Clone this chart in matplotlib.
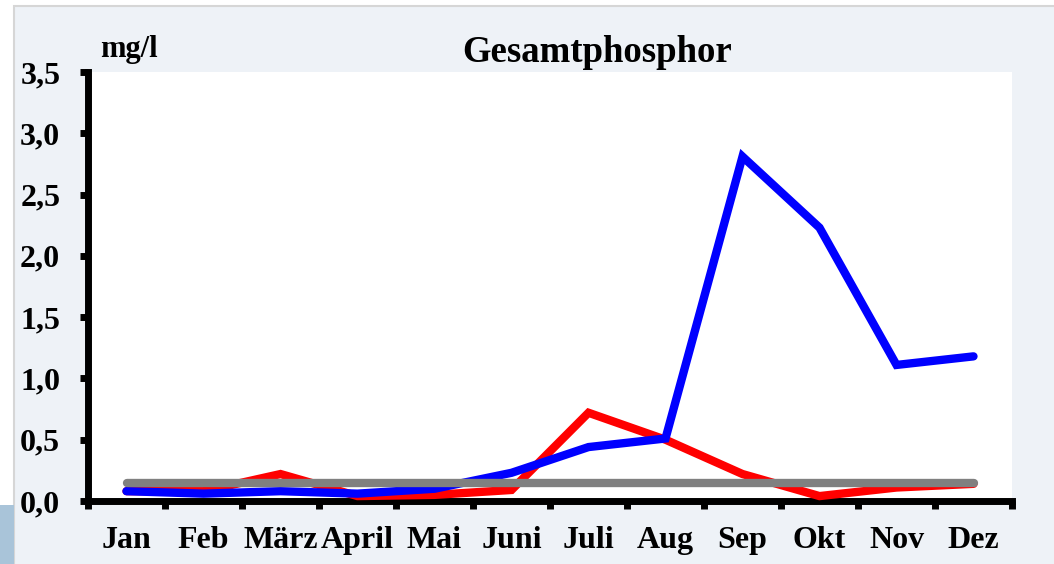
import matplotlib.pyplot as plt
from matplotlib.patches import Rectangle

months = ["Jan", "Feb", "März", "April", "Mai", "Juni", "Juli", "Aug", "Sep", "Okt", "Nov", "Dez"]
red_values = [0.08, 0.08, 0.22, 0.04, 0.05, 0.09, 0.72, 0.50, 0.22, 0.04, 0.11, 0.14]
blue_values = [0.08, 0.06, 0.08, 0.06, 0.10, 0.23, 0.44, 0.51, 2.81, 2.23, 1.11, 1.18]
gray_values = [0.15] * 12
y_ticks = [0.0, 0.5, 1.0, 1.5, 2.0, 2.5, 3.0, 3.5]

plt.rcParams["font.family"] = ["Liberation Serif", "DejaVu Serif"]
plt.rcParams["font.weight"] = "bold"

fig = plt.figure(figsize=(10.54, 5.64), dpi=100, facecolor="white")
W, H = 1054, 564

# Background panel with border and blue corner patch
fig.patches.append(Rectangle((14 / W, -0.01), 1.01 - 14 / W, 1.01 - 6 / H, transform=fig.transFigure,
                             facecolor="#EEF2F7", edgecolor="#D6D6D6", linewidth=1.5, zorder=-2))
fig.patches.append(Rectangle((0, 0), 14 / W, (564 - 505) / H, transform=fig.transFigure,
                             facecolor="#A9C4D9", edgecolor="none", zorder=-2))

ax = fig.add_axes([88 / W, 63 / H, (1012 - 88) / W, (501 - 72) / H])
ax.set_facecolor("white")

x = list(range(len(months)))
lw = 6
ax.plot(x, red_values, color="#FF0000", linewidth=lw, solid_capstyle="round", solid_joinstyle="miter", zorder=3)
ax.plot(x, blue_values, color="#0000FF", linewidth=lw, solid_capstyle="round", solid_joinstyle="miter", zorder=4)
ax.plot(x, gray_values, color="#808080", linewidth=lw, solid_capstyle="round", zorder=5)

ax.set_xlim(-0.5, 11.5)
ax.set_ylim(0, 3.5)

for side in ["top", "right"]:
    ax.spines[side].set_visible(False)
for side in ["left", "bottom"]:
    ax.spines[side].set_linewidth(5)
    ax.spines[side].set_capstyle("projecting")

ax.set_yticks(y_ticks)
ax.set_yticklabels([f"{v:.1f}".replace(".", ",") for v in y_ticks])
ax.tick_params(axis="y", direction="out", length=6, width=5, pad=14, labelsize=23)

ax.set_xticks(x)
ax.set_xticklabels(months)
ax.set_xticks([i - 0.5 for i in range(13)], minor=True)
ax.tick_params(axis="x", which="major", length=0, pad=18, labelsize=23)
ax.tick_params(axis="x", which="minor", direction="out", length=6, width=5)

for lab in ax.get_xticklabels() + ax.get_yticklabels():
    lab.set_fontweight("bold")

fig.text(597 / W, 1 - 62 / H, "Gesamtphosphor", ha="center", va="baseline", fontsize=26.5, fontweight="bold")
fig.text(100 / W, 1 - 57 / H, "mg/l", ha="left", va="baseline", fontsize=22, fontweight="bold")

fig.savefig("out.png", dpi=100)
